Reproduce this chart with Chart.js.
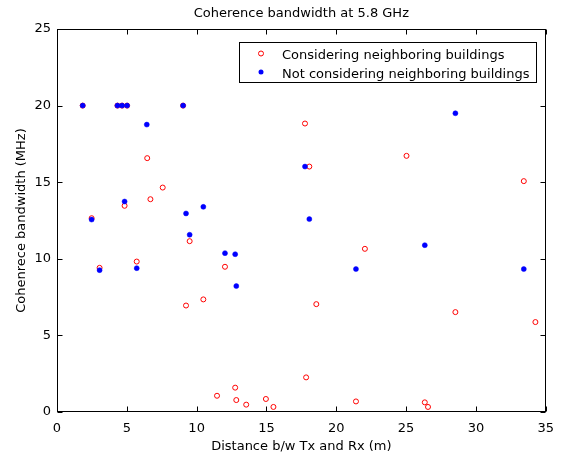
<!DOCTYPE html>
<html><head><meta charset="utf-8">
<script src="https://cdn.jsdelivr.net/npm/chart.js@4/dist/chart.umd.min.js"></script>
<style>html,body{margin:0;padding:0;background:#fff}#wrap{width:563px;height:462px}</style>
</head><body><div id="wrap"><canvas id="c" width="563" height="462"></canvas></div>
<script>
const chartTitle = 'Coherence bandwidth at 5.8 GHz';
const xTitle = 'Distance b/w Tx and Rx (m)';
const yTitle = 'Cohenrece bandwidth (MHz)';
const seriesLabels = ['Considering neighboring buildings', 'Not considering neighboring buildings'];
const xTicks = [0, 5, 10, 15, 20, 25, 30, 35];
const yTicks = [0, 5, 10, 15, 20, 25];

const consX = [1.84, 4.33, 4.66, 5.02, 9.03, 6.46, 7.57, 6.69, 4.84, 2.48, 3.05, 5.71, 9.5, 12.03, 9.24, 10.48, 11.46, 12.76, 12.84, 13.55, 14.96, 15.5, 17.84, 21.41, 26.34, 26.57, 18.57, 28.53, 34.26, 22.05, 17.76, 18.07, 25.03, 33.43];
const consY = [20, 20, 20, 20, 20, 16.57, 14.65, 13.89, 13.46, 12.65, 9.41, 9.82, 11.15, 9.48, 6.95, 7.35, 1.06, 1.59, 0.78, 0.48, 0.85, 0.33, 2.26, 0.69, 0.63, 0.33, 7.04, 6.52, 5.87, 10.65, 18.83, 16.02, 16.72, 15.07];

const notX = [1.84, 4.33, 4.66, 5.02, 9.03, 6.43, 4.84, 9.24, 10.48, 2.48, 3.05, 5.71, 9.5, 12.03, 12.76, 12.84, 18.07, 21.41, 26.34, 33.43, 17.76, 28.53];
const notY = [20, 20, 20, 20, 20, 18.76, 13.74, 12.96, 13.39, 12.56, 9.26, 9.39, 11.57, 10.37, 10.3, 8.22, 12.59, 9.33, 10.89, 9.33, 16.02, 19.5];

const FONT = {family: 'DejaVu Sans', size: 13, weight: 'normal', lineHeight: 1.2};

const boxPlugin = {
  id: 'boxPlugin',
  beforeDatasetsDraw(chart) {
    const {ctx, chartArea: a, scales} = chart;
    const L = Math.round(a.left) + 0.5, R = Math.round(a.right) - 0.5;
    const T = Math.round(a.top) + 0.5, B = Math.round(a.bottom) - 0.5;
    ctx.save();
    ctx.strokeStyle = '#000';
    ctx.lineWidth = 1;
    ctx.strokeRect(L, T, R - L, B - T);
    ctx.beginPath();
    xTicks.forEach(v => {
      const px = Math.round(scales.x.getPixelForValue(v)) + 0.5;
      ctx.moveTo(px, B); ctx.lineTo(px, B - 5);
      ctx.moveTo(px, T); ctx.lineTo(px, T + 5);
    });
    yTicks.forEach(v => {
      const py = Math.round(scales.y.getPixelForValue(v)) + 0.5;
      ctx.moveTo(L, py); ctx.lineTo(L + 5, py);
      ctx.moveTo(R, py); ctx.lineTo(R - 5, py);
    });
    ctx.stroke();
    ctx.restore();
  },
  afterDraw(chart) {
    const ctx = chart.ctx;
    const ds = chart.data.datasets;
    ctx.save();
    ctx.fillStyle = '#fff';
    ctx.fillRect(239.5, 42.5, 297, 40);
    ctx.strokeStyle = '#000';
    ctx.lineWidth = 1;
    ctx.strokeRect(239.5, 42.5, 297, 40);
    // markers
    ctx.beginPath();
    ctx.arc(261, 53.5, 2.5, 0, Math.PI * 2);
    ctx.strokeStyle = ds[0].pointBorderColor;
    ctx.stroke();
    ctx.beginPath();
    ctx.arc(261, 72, 2.5, 0, Math.PI * 2);
    ctx.fillStyle = ds[1].pointBackgroundColor;
    ctx.fill();
    ctx.fillStyle = '#000';
    ctx.font = '13px "DejaVu Sans"';
    ctx.textBaseline = 'alphabetic';
    ctx.textAlign = 'left';
    ctx.fillText(ds[0].label, 282, 59);
    ctx.fillText(ds[1].label, 282, 77.5);
    ctx.restore();
  }
};

new Chart(document.getElementById('c'), {
  type: 'scatter',
  data: {
    datasets: [
      {
        label: seriesLabels[0],
        data: consX.map((x, i) => ({x: x, y: consY[i]})),
        pointStyle: 'circle', pointRadius: 2.5, pointHoverRadius: 2.5,
        pointBackgroundColor: 'rgba(0,0,0,0)', pointBorderColor: '#ff0000', pointBorderWidth: 1,
        order: 2
      },
      {
        label: seriesLabels[1],
        data: notX.map((x, i) => ({x: x, y: notY[i]})),
        pointStyle: 'circle', pointRadius: 2.5, pointHoverRadius: 2.5,
        pointBackgroundColor: '#0000ff', pointBorderColor: '#0000ff', pointBorderWidth: 0.5,
        order: 1
      }
    ]
  },
  options: {
    responsive: false, animation: false, devicePixelRatio: 1,
    layout: {padding: {left: 0, right: 16, top: 0, bottom: 0}},
    plugins: {
      legend: {display: false},
      tooltip: {enabled: false},
      title: {display: true, text: chartTitle, fullSize: false, color: '#000', font: FONT, padding: {top: 6, bottom: 7.4}}
    },
    scales: {
      x: {
        type: 'linear', min: 0, max: 35,
        afterBuildTicks(s) { s.ticks = xTicks.map(v => ({value: v})); },
        ticks: {padding: 9, color: '#000', font: FONT, maxRotation: 0},
        grid: {display: false, drawTicks: false},
        border: {display: false},
        title: {display: true, text: xTitle, color: '#000', font: FONT, padding: {top: 0, bottom: 8}},
        afterFit(s) { s.height = 50; }
      },
      y: {
        type: 'linear', min: 0, max: 25,
        afterBuildTicks(s) { s.ticks = yTicks.map(v => ({value: v})); },
        ticks: {padding: 6, color: '#000', font: FONT},
        grid: {display: false, drawTicks: false},
        border: {display: false},
        title: {display: true, text: yTitle, color: '#000', font: FONT, padding: {top: 14, bottom: 0}},
        afterFit(s) { s.width = 57; }
      }
    }
  },
  plugins: [boxPlugin]
});
</script>
</body></html>
